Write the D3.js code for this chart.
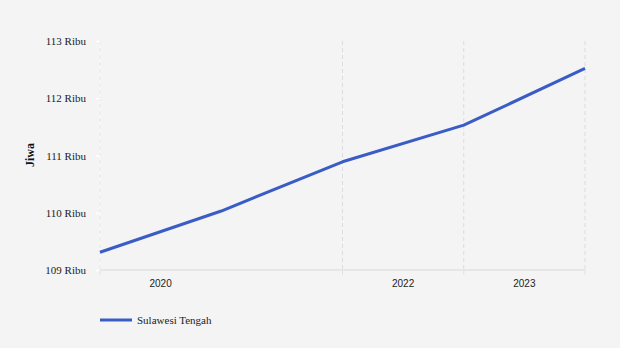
<!DOCTYPE html>
<html><head><meta charset="utf-8">
<script src="https://cdn.jsdelivr.net/npm/d3@7"></script>
<style>html,body{margin:0;padding:0;background:#f4f4f4;}svg{display:block;font-family:"Liberation Serif","Times New Roman",serif;}</style>
</head><body>
<script>
const seriesName = "Sulawesi Tengah";
const pointIndex = [0, 1, 2, 3, 4];
const values = [109.31, 110.03, 110.89, 111.53, 112.52];
const gridIndex = [0, 2, 3, 4];
const xLabels = ["2020", "2022", "2023"];
const xLabelPos = [0.5, 2.5, 3.5];
const yTicks = [109, 110, 111, 112, 113];

const W = 620, H = 348;
const svg = d3.select("body").append("svg").attr("width", W).attr("height", H);
svg.append("rect").attr("width", W).attr("height", H).attr("fill", "#f4f4f4");

const x = d3.scaleLinear().domain([0, 4]).range([100, 585]);
const y = d3.scaleLinear().domain([109, 113]).range([270, 41]);

// vertical dashed gridlines
svg.append("g").selectAll("line").data(gridIndex).join("line")
  .attr("x1", d => x(d)).attr("x2", d => x(d))
  .attr("y1", y(113)).attr("y2", y(109))
  .attr("stroke", "#dcdcdc").attr("stroke-width", 1).attr("stroke-dasharray", "4,3");

// y axis line (white)
svg.append("line").attr("x1", 100).attr("x2", 100).attr("y1", y(113)).attr("y2", y(109))
  .attr("stroke", "#ffffff").attr("stroke-width", 1).attr("opacity", 0.6);

// y axis ticks + labels
const yAxis = d3.axisLeft(y).tickValues(yTicks).tickSize(4).tickPadding(10)
  .tickFormat(d => d + " Ribu");
const gy = svg.append("g").attr("transform", "translate(100,0)").call(yAxis);
gy.select(".domain").remove();
gy.selectAll(".tick line").attr("stroke", "#ffffff").attr("stroke-width", 1.5);
gy.selectAll(".tick text").attr("fill", "#222").attr("font-size", 11)
  .attr("font-family", "Liberation Serif, serif");

// baseline
svg.append("line").attr("x1", x(0)).attr("x2", x(4)).attr("y1", y(109)).attr("y2", y(109))
  .attr("stroke", "#e2e2e2").attr("stroke-width", 1.5);
// bottom ticks
svg.append("g").selectAll("line").data(gridIndex).join("line")
  .attr("x1", d => x(d)).attr("x2", d => x(d))
  .attr("y1", y(109)).attr("y2", y(109) + 5)
  .attr("stroke", "#e2e2e2").attr("stroke-width", 1);

// x labels
svg.append("g").selectAll("text").data(xLabels).join("text")
  .attr("x", (d, i) => x(xLabelPos[i])).attr("y", 287)
  .attr("text-anchor", "middle").attr("font-size", 10).attr("fill", "#222")
  .attr("font-family", "Liberation Sans, Arial, sans-serif")
  .text(d => d);

// y title
svg.append("text").attr("transform", "translate(34,155) rotate(-90)")
  .attr("text-anchor", "middle").attr("font-size", 12).attr("font-weight", "bold")
  .attr("fill", "#111").text("Jiwa");

// line
const line = d3.line().x((d, i) => x(pointIndex[i])).y(d => y(d));
svg.append("path").datum(values).attr("d", line)
  .attr("fill", "none").attr("stroke", "#3a5cc5").attr("stroke-width", 3)
  .attr("stroke-linejoin", "round");

// legend
svg.append("line").attr("x1", 100).attr("x2", 132).attr("y1", 320).attr("y2", 320)
  .attr("stroke", "#3a5cc5").attr("stroke-width", 3);
svg.append("text").attr("x", 137).attr("y", 324).attr("font-size", 11).attr("fill", "#222")
  .text(seriesName);
</script>
</body></html>
